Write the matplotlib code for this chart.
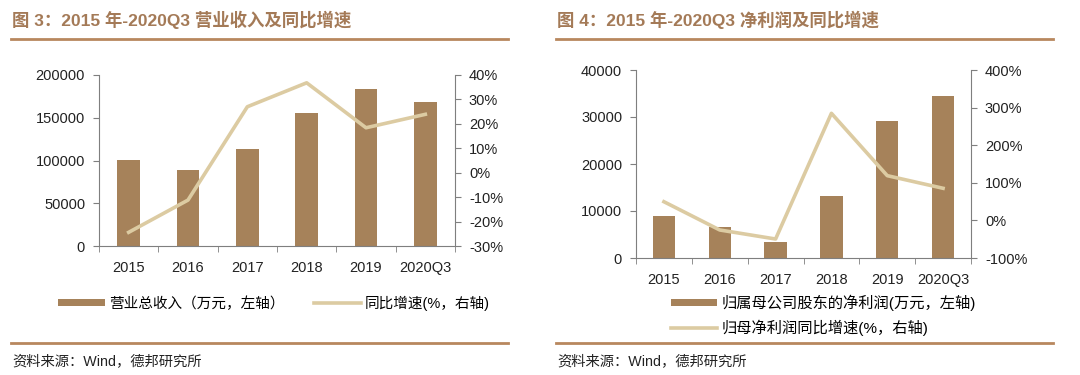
import numpy as np
import matplotlib
matplotlib.use('Agg')
import matplotlib.pyplot as plt
from matplotlib.lines import Line2D
from matplotlib.patches import Patch

plt.rcParams['font.family'] = ['Liberation Sans', 'Noto Sans CJK SC']

#data
years = ['2015', '2016', '2017', '2018', '2019', '2020Q3']
revenue = [100500, 88900, 113100, 155200, 183600, 168800]
revenue_yoy = [-24.4, -11.2, 27.0, 36.8, 18.4, 23.9]
profit = [9000, 6700, 3350, 13250, 29200, 34450]
profit_yoy = [49.7, -25.5, -49.5, 284.8, 119.0, 85.4]

#colours
bar_c = '#A6825A'
line_c = '#DCCBA2'
rule_c = '#B8875E'
title_c = '#A47A57'
spine_c = '#7F7F7F'
W, H = 1080, 375

fig = plt.figure(figsize=(W/100, H/100), dpi=100)

def px(x, y, w, h):
    return [x/W, 1 - (y + h)/H, w/W, h/H]

def style(ax, ax2):
    for a in (ax, ax2):
        for s in a.spines.values():
            s.set_visible(False)
        a.tick_params(labelsize=10.5, colors='#222222', length=4, color=spine_c)
    ax.spines['left'].set_visible(True)
    ax.spines['bottom'].set_visible(True)
    ax2.spines['right'].set_visible(True)
    for s in (ax.spines['left'], ax.spines['bottom'], ax2.spines['right']):
        s.set_color(spine_c)
        s.set_linewidth(0.8)
    ax.set_xticks(np.arange(len(years)))
    ax.set_xticklabels(years)
    ax.set_xticks(np.arange(len(years) + 1) - 0.5, minor=True)
    ax.tick_params(axis='x', which='major', length=0, pad=11)
    ax.tick_params(axis='x', which='minor', length=4, color=spine_c)
    ax.set_xlim(-0.5, len(years) - 0.5)
    ax.tick_params(axis='y', pad=6)
    ax2.tick_params(axis='y', pad=6)

x = np.arange(len(years))

#chart 3
ax = fig.add_axes(px(99, 75, 356, 171))
ax2 = ax.twinx()
ax.bar(x, revenue, width=0.38, color=bar_c, zorder=2)
ax2.plot(x, revenue_yoy, color=line_c, lw=2.6, zorder=3)
ax.set_ylim(0, 200000)
ax.set_yticks(np.arange(0, 200001, 50000))
ax2.set_ylim(-30, 40)
ax2.set_yticks(np.arange(-30, 41, 10))
ax2.set_yticklabels([f'{v}%' for v in range(-30, 41, 10)])
style(ax, ax2)

#chart 4
bx = fig.add_axes(px(636, 70, 335, 188))
bx2 = bx.twinx()
bx.bar(x, profit, width=0.4, color=bar_c, zorder=2)
bx2.plot(x, profit_yoy, color=line_c, lw=2.6, zorder=3)
bx.set_ylim(0, 40000)
bx.set_yticks(np.arange(0, 40001, 10000))
bx2.set_ylim(-100, 400)
bx2.set_yticks(np.arange(-100, 401, 100))
bx2.set_yticklabels([f'{v}%' for v in range(-100, 401, 100)])
style(bx, bx2)

#titles, rules, sources
for x0, t in [(12, '图 3：2015 年-2020Q3 营业收入及同比增速'), (557, '图 4：2015 年-2020Q3 净利润及同比增速')]:
    fig.text(x0/W, 1 - 20/H, t, fontsize=12.5, fontweight='bold', color=title_c, va='center')
    fig.add_artist(Line2D([(x0 - 1)/W, (x0 + 496)/W], [1 - 39/H]*2, color=rule_c, lw=2))
    fig.add_artist(Line2D([(x0 - 1)/W, (x0 + 496)/W], [1 - 343/H]*2, color=rule_c, lw=2))
    fig.text(x0/W, 1 - 361/H, '资料来源：Wind，德邦研究所', fontsize=10.3, color='#222222', va='center')

#legends
h_bar = Patch(facecolor=bar_c, edgecolor='none')
h_line = Line2D([], [], color=line_c, lw=2.6)
fig.legend([h_bar, h_line], ['营业总收入（万元，左轴）', '同比增速(%，右轴)'],
           loc='center', bbox_to_anchor=(274/W, 1 - 303/H), ncol=2, frameon=False,
           fontsize=10.5, handlelength=3.2, handleheight=0.35, handletextpad=0.3, columnspacing=2.0)
fig.legend([h_bar, h_line], ['归属母公司股东的净利润(万元，左轴)', '归母净利润同比增速(%，右轴)'],
           loc='upper left', bbox_to_anchor=(657/W, 1 - 281/H), ncol=1, frameon=False,
           fontsize=11, handlelength=3.0, handleheight=0.35, handletextpad=0.3, labelspacing=0.55)

fig.savefig('out.png', dpi=100)
